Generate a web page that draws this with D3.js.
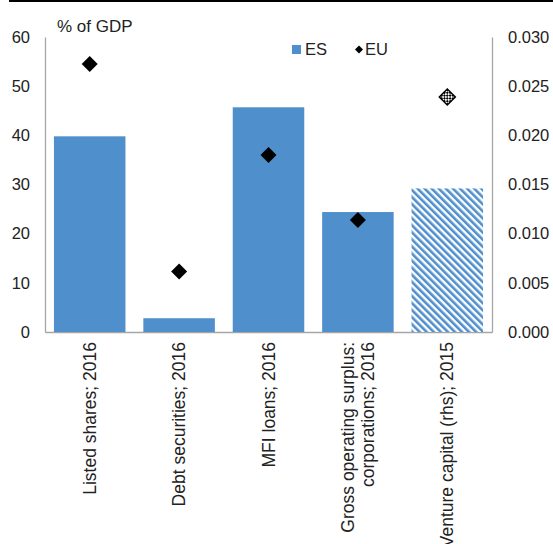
<!DOCTYPE html>
<html>
<head>
<meta charset="utf-8">
<script src="https://cdn.jsdelivr.net/npm/d3@7"></script>
<style>
  body { margin: 0; background: #fff; }
  svg { display: block; font-family: "Liberation Sans", Arial, sans-serif; }
</style>
</head>
<body>
<svg width="553" height="544"></svg>
<script>
// categories (lines of each label)
const categories = [
    ["Listed shares; 2016"],
    ["Debt securities; 2016"],
    ["MFI loans; 2016"],
    ["Gross operating surplus:", "corporations; 2016"],
    ["Venture capital (rhs); 2015"]
];
// ES bars and EU diamonds, % of GDP (last one on right axis)
const esValues = [39.8, 2.8, 45.7, 24.4, 0.0146];
const euValues = [54.5, 12.3, 36.0, 22.8, 0.0239];
const onRight = [false, false, false, false, true];
const leftTicks = [0, 10, 20, 30, 40, 50, 60];
const rightTicks = [0, 0.005, 0.010, 0.015, 0.020, 0.025, 0.030];

const svg = d3.select("svg");
const margens = { left: 45, right: 61, top: 37, bottom: 212 };
const width = 553, height = 544;
const innerWidth = width - margens.left - margens.right;
const innerHeight = height - margens.top - margens.bottom;
const textColor = "#222";
const axisColor = "#a6a6a6";
const barColor = "#4f8fcc";

// linha preta no topo
svg.append("line")
    .attr("x1", 9).attr("x2", width)
    .attr("y1", 1).attr("y2", 1)
    .attr("stroke", "#000").attr("stroke-width", 2);

// padrões: listras para a barra rhs, xadrez para o losango rhs
const defs = svg.append("defs");
const stripes = defs.append("pattern")
    .attr("id", "stripes")
    .attr("patternUnits", "userSpaceOnUse")
    .attr("width", 5).attr("height", 5)
    .attr("patternTransform", "rotate(-45)");
stripes.append("rect").attr("width", 5).attr("height", 5).attr("fill", "#fff");
stripes.append("rect").attr("width", 2.6).attr("height", 5).attr("fill", barColor);

const checks = defs.append("pattern")
    .attr("id", "checks")
    .attr("patternUnits", "userSpaceOnUse")
    .attr("width", 4).attr("height", 4);
checks.append("rect").attr("width", 4).attr("height", 4).attr("fill", "#fff");
checks.append("rect").attr("width", 2).attr("height", 2).attr("fill", "#000");
checks.append("rect").attr("x", 2).attr("y", 2).attr("width", 2).attr("height", 2).attr("fill", "#000");

const group = svg.append("g")
    .attr("transform", `translate(${margens.left},${margens.top})`);

const x = d3.scaleBand()
    .domain(d3.range(categories.length))
    .range([0, innerWidth])
    .paddingInner(0.2)
    .paddingOuter(0.1);

const y = d3.scaleLinear().domain([0, 60]).range([innerHeight, 0]);
const y2 = d3.scaleLinear().domain([0, 0.030]).range([innerHeight, 0]);
const yOf = i => onRight[i] ? y2 : y;

// eixos
const leftAxis = group.append("g")
    .call(d3.axisLeft(y).tickValues(leftTicks).tickSize(0).tickPadding(15));
const rightAxis = group.append("g")
    .attr("transform", `translate(${innerWidth},0)`)
    .call(d3.axisRight(y2).tickValues(rightTicks).tickSize(0).tickPadding(16)
        .tickFormat(d3.format(".3f")));
const bottomAxis = group.append("g")
    .attr("transform", `translate(0,${innerHeight})`)
    .call(d3.axisBottom(x).tickSize(0).tickFormat(""));

[leftAxis, rightAxis, bottomAxis].forEach(a => {
    a.select(".domain").attr("stroke", axisColor).attr("stroke-width", 1.3);
    a.selectAll("text")
        .attr("fill", textColor)
        .style("font-size", "16.5px")
        .style("font-family", "Liberation Sans, Arial, sans-serif");
});

// barras
group.selectAll("rect.bar")
    .data(esValues)
    .enter()
    .append("rect")
    .attr("class", "bar")
    .attr("x", (d, i) => x(i))
    .attr("y", (d, i) => yOf(i)(d))
    .attr("width", x.bandwidth())
    .attr("height", (d, i) => innerHeight - yOf(i)(d))
    .attr("fill", (d, i) => onRight[i] ? "url(#stripes)" : barColor);

// losangos EU
const diamond = d3.symbol().type(d3.symbolSquare).size(128);
group.selectAll("path.eu")
    .data(euValues)
    .enter()
    .append("path")
    .attr("class", "eu")
    .attr("d", diamond)
    .attr("transform", (d, i) =>
        `translate(${x(i) + x.bandwidth() / 2},${yOf(i)(d)}) rotate(45)`)
    .attr("fill", (d, i) => onRight[i] ? "url(#checks)" : "#000")
    .attr("stroke", (d, i) => onRight[i] ? "#000" : "none")
    .attr("stroke-width", 1.5);

// rótulos do eixo X, rotacionados
const labels = group.selectAll("text.cat")
    .data(categories)
    .enter()
    .append("text")
    .attr("class", "cat")
    .attr("transform", (d, i) =>
        `translate(${x(i) + x.bandwidth() / 2},${innerHeight + 10}) rotate(-90)`)
    .attr("text-anchor", "end")
    .attr("fill", textColor)
    .style("font-size", "17.5px");

labels.each(function (lines) {
    const t = d3.select(this);
    const n = lines.length;
    lines.forEach((line, k) => {
        t.append("tspan")
            .attr("x", 0)
            .attr("y", (k - (n - 1) / 2) * 20.5)
            .attr("dy", "0.35em")
            .text(line);
    });
});

// título do eixo
svg.append("text")
    .attr("x", 57).attr("y", 32)
    .attr("fill", textColor)
    .style("font-size", "17px")
    .text("% of GDP");

// legenda
const legend = svg.append("g");
legend.append("rect")
    .attr("x", 292).attr("y", 45).attr("width", 9).attr("height", 9)
    .attr("fill", barColor);
legend.append("text")
    .attr("x", 305).attr("y", 55)
    .attr("fill", textColor).style("font-size", "16.5px")
    .text("ES");
legend.append("path")
    .attr("d", d3.symbol().type(d3.symbolSquare).size(32))
    .attr("transform", "translate(359,49.5) rotate(45)")
    .attr("fill", "#000");
legend.append("text")
    .attr("x", 365).attr("y", 55)
    .attr("fill", textColor).style("font-size", "16.5px")
    .text("EU");
</script>
</body>
</html>
